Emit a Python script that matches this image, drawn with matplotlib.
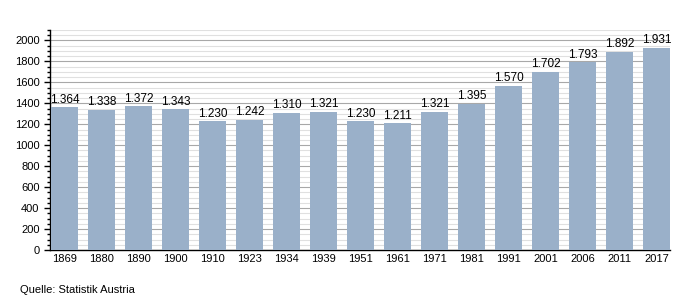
import numpy as np
import matplotlib.pyplot as plt
from matplotlib.ticker import MultipleLocator

years = ['1869', '1880', '1890', '1900', '1910', '1923', '1934', '1939', '1951',
         '1961', '1971', '1981', '1991', '2001', '2006', '2011', '2017']
population = [1364, 1338, 1372, 1343, 1230, 1242, 1310, 1321, 1230,
              1211, 1321, 1395, 1570, 1702, 1793, 1892, 1931]

plt.rcParams['font.family'] = ['Liberation Sans', 'DejaVu Sans']

fig = plt.figure(figsize=(7, 3), dpi=100)
ax = fig.add_axes([50/700, 50/300, 620/700, 220/300])

x = np.arange(len(years))
bw = 0.73
ax.bar(x, population, width=bw, color='#9ab0c9', zorder=3)

for xi, v in zip(x, population):
    lbl = '{:,}'.format(v).replace(',', '.')
    ax.text(xi, v + 15, lbl, ha='center', va='bottom', fontsize=8.5, zorder=4)

ax.set_xlim(-bw/2 - 0.03, len(years) - 1 + bw/2)
ax.set_ylim(0, 2100)
ax.yaxis.set_major_locator(MultipleLocator(200))
ax.yaxis.set_minor_locator(MultipleLocator(50))
ax.grid(axis='y', which='major', color='#a8a8a8', linewidth=0.8, zorder=1)
ax.grid(axis='y', which='minor', color='#e0e0e0', linewidth=0.8, zorder=1)

ax.set_xticks(x)
ax.set_xticklabels(years)
ax.tick_params(axis='x', length=0, labelsize=8, pad=3)
ax.tick_params(axis='y', which='major', length=4, width=1, labelsize=8, direction='out')
ax.tick_params(axis='y', which='minor', length=2, width=1)

for s in ['top', 'right']:
    ax.spines[s].set_visible(False)
ax.spines['left'].set_linewidth(1)
ax.spines['bottom'].set_linewidth(1)

fig.text(20/700, 1 - 290/300, 'Quelle: Statistik Austria', fontsize=8, va='center')

fig.savefig('out.png', dpi=100)
